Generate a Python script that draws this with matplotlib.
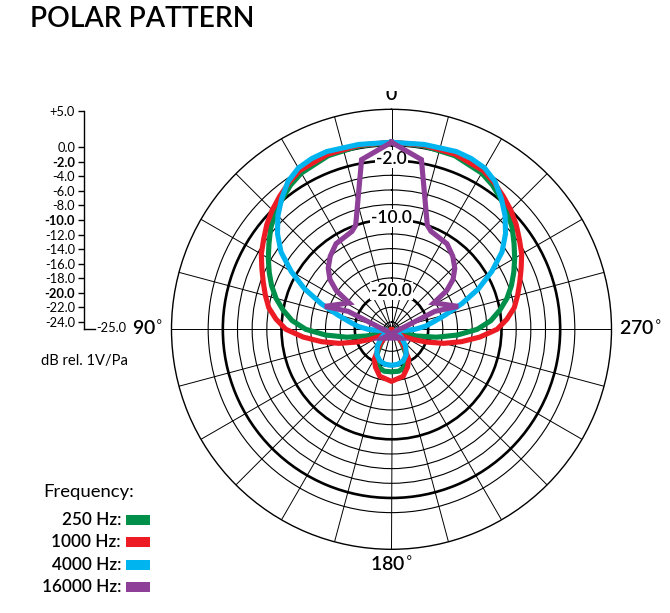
import numpy as np
import matplotlib
matplotlib.use("Agg")
import matplotlib.pyplot as plt
from matplotlib.patches import Rectangle

plt.rcParams['font.family'] = ['Lato', 'DejaVu Sans']

# polar response, dB rel. on-axis, angle in degrees (0 = front, counter-clockwise)
# symmetric patterns: left half given, right half is the mirror
ang_250 = [0, 10, 20, 30, 35, 40, 45, 50, 55, 60, 65, 70, 75, 80, 85, 90, 95, 100,
           105, 110, 115, 125, 130, 140, 150, 160, 170, 180]
db_250 = [0.5, 0.4, 0.2, -0.4, -1.0, -1.8, -2.6, -3.5, -4.6, -5.6, -6.6, -7.6, -8.7,
          -10.0, -11.4, -13.3, -16.0, -18.8, -21.5, -23.5, -25, -25, -24.6, -23.0,
          -21.0, -19.6, -19.2, -19.2]

ang_1k = [0, 10, 20, 30, 35, 40, 45, 50, 55, 60, 65, 70, 75, 80, 85, 90, 95, 100,
          105, 110, 115, 120, 125, 128, 133, 142, 150, 157, 166, 180]
db_1k = [0.5, 0.5, 0.4, 0.0, -0.6, -1.3, -2.0, -2.8, -3.7, -4.5, -5.5, -6.4, -7.2,
         -8.0, -9.2, -10.6, -12.9, -15.3, -17.6, -19.9, -21.7, -23.0, -24.4, -25,
         -24.4, -22.5, -20.3, -19.4, -18.4, -17.9]

ang_4k = [0, 10, 20, 25, 30, 35, 40, 45, 50, 55, 60, 65, 70, 75, 80, 85, 90, 95,
          100, 120, 130, 140, 150, 160, 170, 180]
db_4k = [0.5, 0.6, 0.8, 0.7, 0.4, -0.4, -1.7, -3.1, -4.7, -6.6, -9.2, -11.9, -14.8,
         -17.4, -19.2, -20.4, -21.8, -23.2, -24.3, -24.0, -23.2, -22.0, -21.0, -20.4,
         -20.15, -20.1]

# 16 kHz trace is a polyline with a spike, listed in drawing order
ang_16k = [0, 10, 19, 22, 33, 40, 46, 51, 55, 58, 71, 67.5, 225]
db_16k = [0.5, -1.5, -10.0, -10.6, -11.1, -12.0, -13.0, -14.2, -15.8, -18.2,
          -15.4, -18.6, -23.3]

labels = ["250 Hz:", "1000 Hz:", "4000 Hz:", "16000 Hz:"]
colors = ["#00904A", "#ED1C24", "#00B5EF", "#8E3F98"]

scale_ticks = [5, 0, -2, -4, -6, -8, -10, -12, -14, -16, -18, -20, -22, -24]
bold_rings = [-2, -10, -20]

W, H = 670, 613


def fx(x):
    return x / W


def fy(y):
    return 1 - y / H


def mirror(a, d, closed=True):
    if closed:
        a2 = a + [360 - v for v in reversed(a[:-1])]
        d2 = d + list(reversed(d[:-1]))
    else:
        a2 = a + [360 - v for v in reversed(a)]
        d2 = d + list(reversed(d))
    return np.deg2rad(a2), np.array(d2)


def main():
    fig = plt.figure(figsize=(6.7, 6.13), dpi=100)

    # polar grid: center (391.5, 329.3) px, radius 220 px
    cx, cy, R = 391.5, 329.3, 220
    ax = fig.add_axes([fx(cx - R), fy(cy + R), 2 * R / W, 2 * R / H], projection='polar')
    ax.set_theta_zero_location('N')
    ax.set_theta_direction(1)
    ax.set_rlim(-25, 5)
    ax.set_yticks(np.arange(-24, 1, 2))
    ax.set_yticklabels([])
    ax.set_xticks(np.deg2rad(np.arange(0, 360, 15)))
    ax.set_xticklabels([])
    ax.tick_params(length=0)
    ax.grid(True, color='black', linewidth=0.7)
    for val, gl in zip(np.arange(-24, 1, 2), ax.yaxis.get_gridlines()):
        gl.set_linewidth(1.9 if val in bold_rings else 0.8)
        gl.set_color('black')
    for gl in ax.xaxis.get_gridlines():
        gl.set_linewidth(0.7)
        gl.set_color('black')
    ax.spines['polar'].set_linewidth(1.0)

    for val in bold_rings:
        ax.text(0, val + 0.2, "%.1f" % val, ha='center', va='center', fontsize=12.5,
                fontweight='semibold', zorder=3,
                bbox=dict(boxstyle='square,pad=0.05', fc='white', ec='none'))

    series = [
        mirror(ang_250, db_250),
        mirror(ang_1k, db_1k),
        mirror(ang_4k, db_4k),
        mirror(ang_16k, db_16k, closed=False),
    ]
    for (th, r), c in zip(series, colors):
        ax.plot(th, r, color=c, linewidth=3.7,
                solid_joinstyle='miter' if c == colors[3] else 'round',
                zorder=4, clip_on=False)

    # angle labels
    fig.text(fx(cx), fy(94), "0", ha='center', va='center', fontsize=14, fontweight='semibold')
    fig.patches.append(Rectangle((fx(370), fy(90.5)), fx(42), fy(0) - fy(90.5),
                                 transform=fig.transFigure, fc='white', ec='none', zorder=10))
    fig.text(fx(163), fy(329), "90$^{\\circ}$", ha='right', va='center', fontsize=14,
             fontweight='semibold')
    fig.text(fx(619), fy(329), "270$^{\\circ}$", ha='left', va='center', fontsize=14,
             fontweight='semibold')
    fig.text(fx(cx), fy(565), "180$^{\\circ}$", ha='center', va='center', fontsize=14,
             fontweight='semibold')

    # title
    fig.text(fx(30), fy(19), "POLAR PATTERN", ha='left', va='center', fontsize=20.3,
             fontweight='semibold')

    # dB scale
    sax = fig.add_axes([fx(83.5), fy(329), fx(95) - fx(83.5), fy(111) - fy(329)])
    sax.set_ylim(-25, 5)
    sax.set_xlim(0, 1)
    for s in ['top', 'right']:
        sax.spines[s].set_visible(False)
    sax.spines['left'].set_linewidth(1.0)
    sax.spines['bottom'].set_linewidth(1.0)
    sax.set_xticks([])
    sax.set_yticks(scale_ticks)
    sax.set_yticklabels(["%+.1f" % v if v > 0 else "%.1f" % v for v in scale_ticks],
                        fontsize=9.3)
    sax.tick_params(axis='y', direction='out', length=4, width=1.0, pad=2)
    sax.set_yticks(bold_rings, minor=True)
    sax.tick_params(axis='y', which='minor', direction='inout', length=13, width=1.3)
    for v, lab in zip(scale_ticks, sax.get_yticklabels()):
        if v in bold_rings:
            lab.set_fontweight('bold')
    sax.patch.set_visible(False)
    fig.text(fx(96), fy(328), "-25.0", ha='left', va='center', fontsize=9.3)
    fig.text(fx(41), fy(361), "dB rel. 1V/Pa", ha='left', va='center', fontsize=10.6)

    # legend
    fig.text(fx(43), fy(492), "Frequency:", ha='left', va='center', fontsize=13.3)
    rows = [520, 542, 564.5, 586.5]
    for lab, c, y in zip(labels, colors, rows):
        fig.text(fx(121), fy(y), lab, ha='right', va='center', fontsize=12.3,
                 fontweight='semibold')
        fig.patches.append(Rectangle((fx(126), fy(y + 5)), fx(150) - fx(126), fy(y - 5) - fy(y + 5),
                                     transform=fig.transFigure, fc=c, ec='none'))

    fig.savefig("out.png", dpi=100)


if __name__ == "__main__":
    main()
